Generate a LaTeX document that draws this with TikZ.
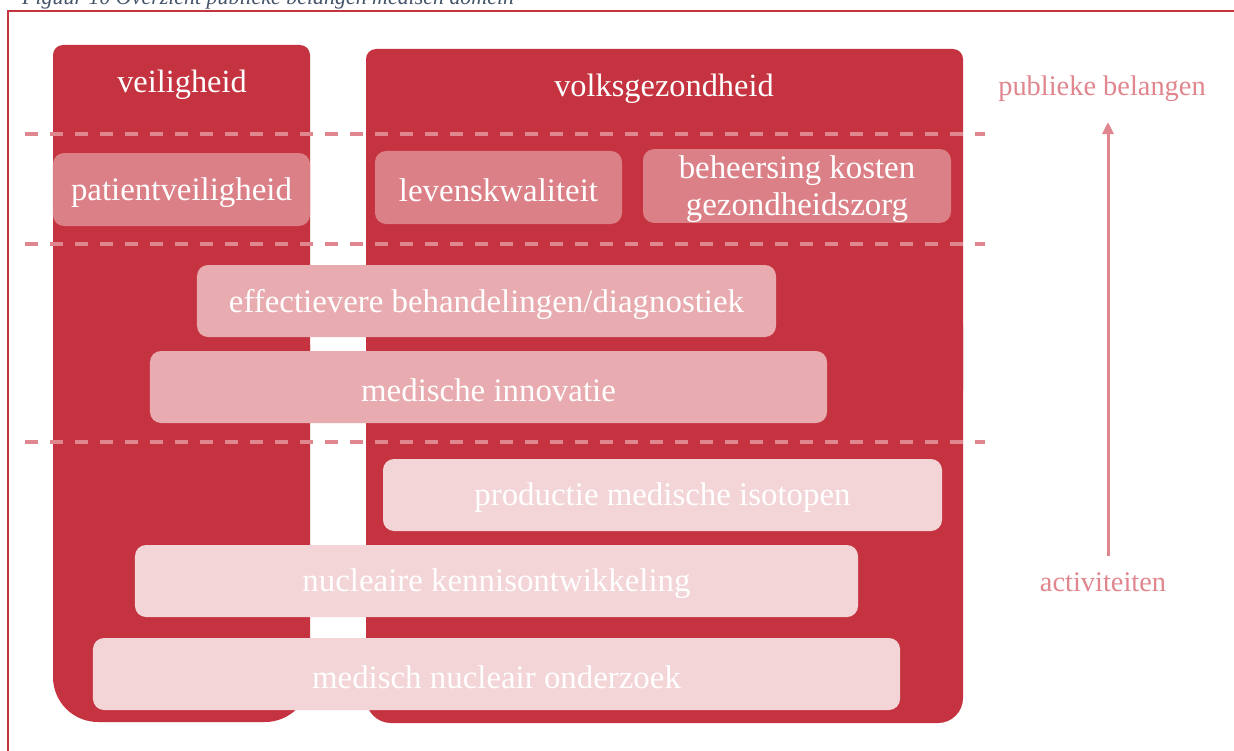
\documentclass[tikz,border=0pt]{standalone}
\usepackage{fontspec}
\setmainfont{Liberation Serif}
\usetikzlibrary{arrows.meta}
\definecolor{dred}{HTML}{C4333F}
\definecolor{mpink}{HTML}{DC8087}
\definecolor{lpink}{HTML}{E8ABAF}
\definecolor{pale}{HTML}{F3D5D8}
\definecolor{accent}{HTML}{E0868E}
\definecolor{capcol}{HTML}{44546A}
\newcommand{\lowtxt}[2][3bp]{\raisebox{-#1}[\height][\depth]{#2}}
\begin{document}
\begin{tikzpicture}[x=1bp,y=-1bp,
  column/.style={fill=dred,draw=none},
  boxbase/.style={draw=none,rounded corners=11bp,text=white,inner sep=0pt,align=center,
    font=\fontsize{33}{37}\selectfont},
  topbox/.style={boxbase,fill=mpink},
  midbox/.style={boxbase,fill=lpink},
  lowbox/.style={boxbase,fill=pale},
  head/.style={text=white,inner sep=0pt,font=\fontsize{32.5}{37}\selectfont},
  sidelabel/.style={text=accent,inner sep=0pt,font=\fontsize{28.5}{32}\selectfont},
  levelline/.style={accent,line width=3.2bp,dash pattern=on 13bp off 12bp},
  scalearrow/.style={accent,line width=3bp,-{Triangle[length=12bp,width=11bp]}},
  frameline/.style={dred,line width=2bp}
]
\clip (0,0) rectangle (1234,751);
\fill[white] (0,0) rectangle (1234,751);
% caption (cut off at the top, as in the source)
\node[anchor=base west,inner sep=0pt,text=capcol,font=\fontsize{22}{26}\itshape] (cap) at (22,5)
  {Figuur 10 Overzicht publieke belangen medisch domein};
% frame
\draw[frameline] (8,751) -- (8,11) -- (1240,11);
% columns
\fill[column,rounded corners=10bp] (53,45) rectangle (310,400);
\fill[column,rounded corners=45bp] (53,300) rectangle (310,722);
\fill[column,rounded corners=10bp] (366,49) rectangle (963,400);
\fill[column,rounded corners=25bp] (366,300) rectangle (963,723);
\node[head] (veil) at (182,85) {veiligheid};
\node[head] (volk) at (664,89) {volksgezondheid};
% level lines
\draw[levelline] (25,134) -- (985,134);
\draw[levelline] (25,244) -- (985,244);
\draw[levelline] (25,442) -- (985,442);
% boxes
\node[topbox,minimum width=257bp,minimum height=73bp] (pat) at (181.5,189.5) {\lowtxt{patientveiligheid}};
\node[topbox,minimum width=247bp,minimum height=73bp] (lev) at (498.5,187.5) {\lowtxt{levenskwaliteit}};
\node[topbox,minimum width=308bp,minimum height=72bp] (beh) at (797,186)
  {\lowtxt[4bp]{\begin{tabular}{@{}c@{}}beheersing kosten\\gezondheidszorg\end{tabular}}};
\node[midbox,minimum width=579bp,minimum height=72bp] (eff) at (486.5,301) {\lowtxt{effectievere behandelingen/diagnostiek}};
\node[midbox,minimum width=677bp,minimum height=72bp] (inn) at (488.5,387) {\lowtxt{medische innovatie}};
\node[lowbox,minimum width=559bp,minimum height=72bp] (iso) at (662.5,495) {\lowtxt{productie medische isotopen}};
\node[lowbox,minimum width=723bp,minimum height=72bp] (ken) at (496.5,581) {\lowtxt{nucleaire kennisontwikkeling}};
\node[lowbox,minimum width=807bp,minimum height=72bp] (ond) at (496.5,674) {\lowtxt{medisch nucleair onderzoek}};
% side scale
\node[sidelabel] (pub) at (1102,89) {publieke belangen};
\node[sidelabel] (act) at (1103,582) {activiteiten};
\coordinate (arrS) at (1108,556);
\coordinate (arrE) at (1108,122);
\draw[scalearrow] (arrS) -- (arrE);
\end{tikzpicture}
\end{document}
